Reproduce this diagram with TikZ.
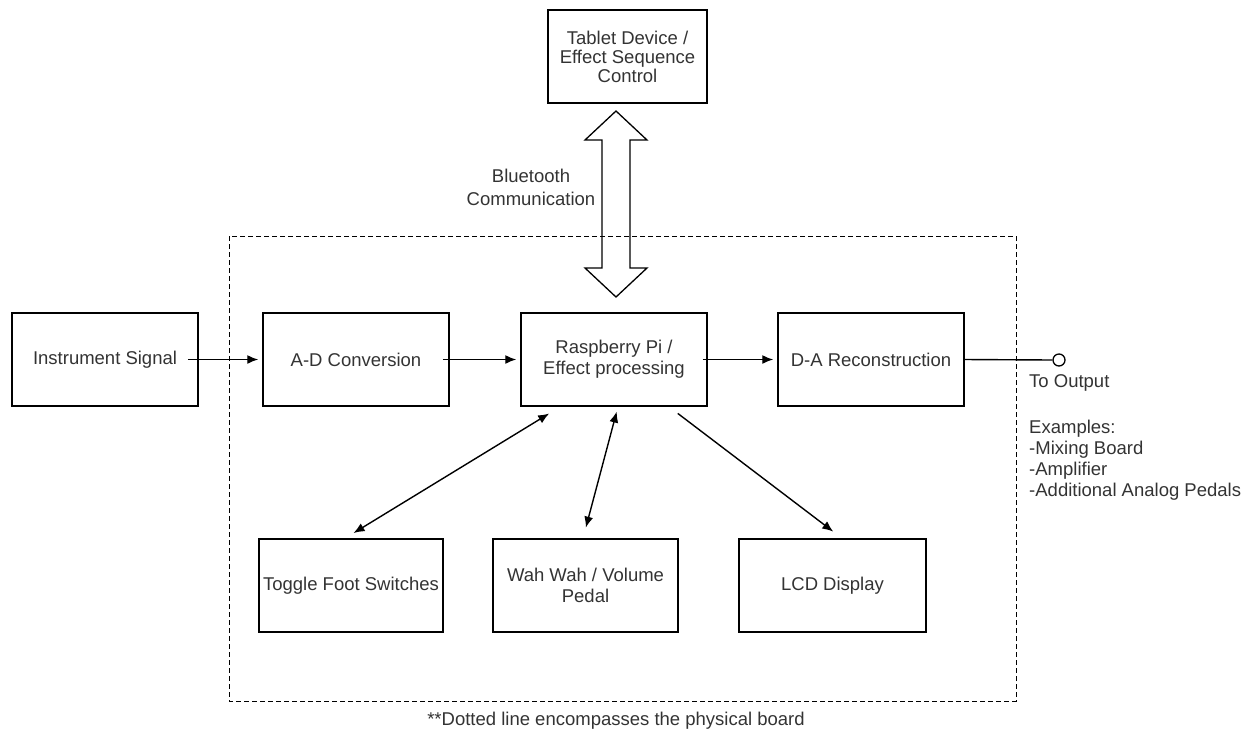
\documentclass[tikz,border=0pt]{standalone}
\usepackage{fontspec}
\setmainfont{Liberation Sans}
\usetikzlibrary{arrows.meta}

\begin{document}
\begin{tikzpicture}[x=1pt,y=-1pt,
  every node/.style={font=\fontsize{18.5}{21}\selectfont, text=black!80},
  blk/.style={draw=black, line width=1.5pt, minimum width=186pt, minimum height=93pt, align=center, inner sep=2pt},
  conn/.style={line width=1.4pt},
  >={Latex[length=11pt,width=9pt]}]
\useasboundingbox (0,0) rectangle (1252,732);

% physical board
\draw[line width=1pt, dash pattern=on 5pt off 3pt] (229,236) rectangle (1016,701);
\node (note) at (616,721) {**Dotted line encompasses the physical board};

% blocks
\node[blk, minimum width=159pt] (tab) at (627.5,56.5) {Tablet Device /\\[-2pt] Effect Sequence\\[-2pt] Control};
\node[blk] (sig) at (105,359.5) {Instrument Signal};
\node[blk] (adc) at (356,359.5) {A-D Conversion};
\node[blk] (rpi) at (614,359.5) {Raspberry Pi /\\ Effect processing};
\node[blk] (dac) at (871,359.5) {D-A Reconstruction};
\node[blk, minimum width=184pt] (tog) at (351,585.5) {Toggle Foot Switches};
\node[blk, minimum width=185pt] (wah) at (585.5,585.5) {Wah Wah / Volume\\ Pedal};
\node[blk, minimum width=187pt] (lcd) at (832.5,585.5) {LCD Display};

% output
\node[circle, draw=black, line width=1.3pt, minimum size=12pt, inner sep=0pt] (out) at (1059,360) {};
\node[anchor=west, inner sep=0pt] (outlbl) at (1029,383) {To Output};
\node[anchor=west, inner sep=0pt, align=left] (ex) at (1029,460) {Examples:\\ -Mixing Board\\ -Amplifier\\ -Additional Analog Pedals};

% bluetooth link
\node[align=center, inner sep=0pt, text depth=0pt] (bt) at (531,187) {Bluetooth\\[2pt] Communication};
\draw[line width=1.3pt] (602,140) -- (585,140) -- (616,111) -- (647,140) -- (630,140)
  -- (630,268) -- (647,268) -- (616,297) -- (585,268) -- (602,268) -- cycle;

% signal chain
\draw[conn,->,shorten <=-11pt,shorten >=4pt] (sig.east) -- (adc.west);
\draw[conn,->,shorten <=-7pt,shorten >=4pt] (adc.east) -- (rpi.west);
\draw[conn,->,shorten <=-5pt,shorten >=4pt] (rpi.east) -- (dac.west);
\draw[conn] (dac.east) -- (out.west);

% peripherals
\draw[conn,<->,shorten <=13pt,shorten >=10pt] ([xshift=40pt]rpi.south west) -- ([xshift=-6pt]tog.north);
\draw[conn,<->,shorten <=5pt,shorten >=11pt] ([xshift=4pt]rpi.south) -- ([xshift=-2.5pt]wah.north);
\draw[conn,->,shorten <=11pt,shorten >=11pt] ([xshift=55pt]rpi.south) -- ([xshift=9.5pt]lcd.north);
\end{tikzpicture}
\end{document}
